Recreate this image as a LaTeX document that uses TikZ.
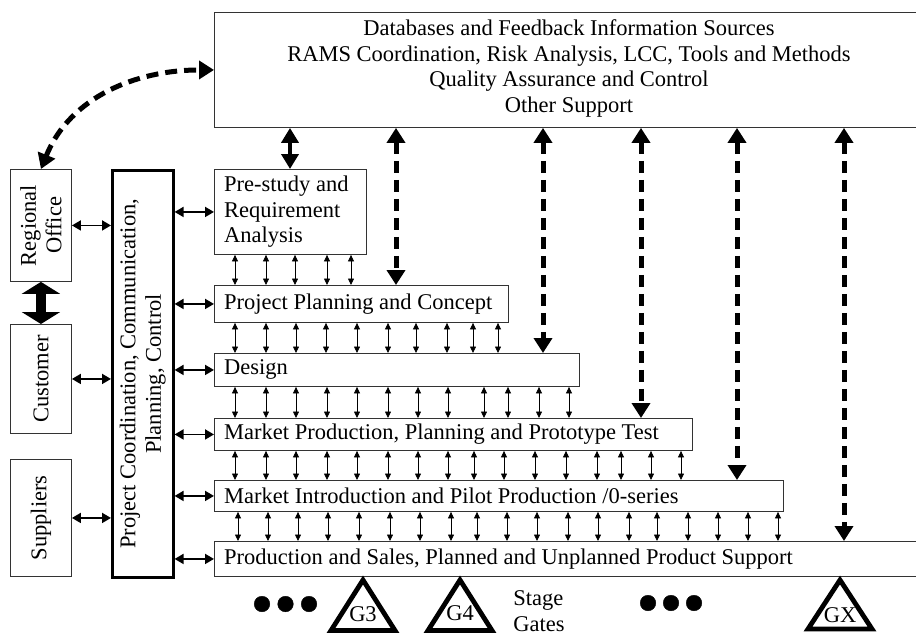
\documentclass[tikz,border=0pt]{standalone}
\usepackage{fontspec}
\setmainfont{Liberation Serif}
\usetikzlibrary{arrows.meta}
\begin{document}
\begin{tikzpicture}[x=1pt,y=-1pt,
  box/.style={draw=black!80, line width=0.9pt, inner sep=0pt, anchor=north west},
  txt/.style={font=\fontsize{22.5}{25.5}\selectfont, inner sep=0pt},
  smallarr/.style={line width=0.8pt, {Triangle[length=6.5pt,width=6pt]}-{Triangle[length=6.5pt,width=6pt]}},
  midarr/.style={line width=1.8pt, {Triangle[length=9pt,width=10pt]}-{Triangle[length=9pt,width=10pt]}},
  dasharr/.style={line width=5pt, dash pattern=on 12pt off 7pt, {Triangle[length=15pt,width=18pt]}-{Triangle[length=15pt,width=18pt]}},
  solidarr/.style={line width=4.5pt, {Triangle[length=15pt,width=17pt]}-{Triangle[length=15pt,width=17pt]}},
  bigarr/.style={line width=10pt, {Triangle[length=12pt,width=38pt]}-{Triangle[length=12pt,width=38pt]}},
  gate/.style={line width=4.8pt, line join=miter},
  dot/.style={fill=black},
]
\useasboundingbox (0,0) rectangle (916,637);
\clip (0,0) rectangle (916,637);

% top box
\node[box, minimum width=720, minimum height=115] (top) at (214,12) {};
\node[txt, align=center] (ttop) at (569,68.5) {Databases and Feedback Information Sources\\RAMS Coordination, Risk Analysis, LCC, Tools and Methods\\Quality Assurance and Control\\Other Support};

% left boxes
\node[box, minimum width=61, minimum height=112] (ro) at (10,169) {};
\node[box, minimum width=61, minimum height=109] (cust) at (10,324) {};
\node[box, minimum width=61, minimum height=117] (sup) at (10,459) {};
\node[box, draw=black, line width=2.6pt, minimum width=61, minimum height=407] (pc) at (111,169) {};
\node[txt, rotate=90, align=center] (tro) at (ro.center) {Regional\\Office};
\node[txt, rotate=90] (tcust) at (cust.center) {Customer};
\node[txt, rotate=90] (tsup) at (sup.center) {Suppliers};
\node[txt, rotate=90, align=center] (tpc) at (pc.center) {Project Coordination, Communication,\\Planning, Control};

% stage boxes
\node[box, minimum width=152, minimum height=85] (s1) at (214,169) {};
\node[box, minimum width=294, minimum height=37] (s2) at (214,285) {};
\node[box, minimum width=365, minimum height=33] (s3) at (214,353) {};
\node[box, minimum width=478, minimum height=32] (s4) at (214,418) {};
\node[box, minimum width=569, minimum height=31] (s5) at (214,480) {};
\node[box, minimum width=720, minimum height=35] (s6) at (214,541) {};

\node[txt, anchor=west, align=left] (ts1) at ([xshift=10pt]s1.west) {Pre-study and\\Requirement\\Analysis};
\node[txt, anchor=west] (ts2) at ([xshift=10pt]s2.west) {Project Planning and Concept};
\node[txt, anchor=west] (ts3) at ([xshift=10pt]s3.west) {Design};
\node[txt, anchor=west] (ts4) at ([xshift=10pt]s4.west) {Market Production, Planning and Prototype Test};
\node[txt, anchor=west] (ts5) at ([xshift=10pt]s5.west) {Market Introduction and Pilot Production /0-series};
\node[txt, anchor=west] (ts6) at ([xshift=10pt]s6.west) {Production and Sales, Planned and Unplanned Product Support};

% left connectors
\draw[midarr] (ro.east) -- (pc.west |- ro.east);
\draw[midarr] (cust.east) -- (pc.west |- cust.east);
\draw[midarr] (sup.east) -- (pc.west |- sup.east);
\draw[bigarr] (ro.south) -- (cust.north);
\foreach \s in {s1,s2,s3,s4,s5,s6}
  \draw[midarr] (pc.east |- \s.west) -- (\s.west);

% small arrows between stages
\foreach \x in {235,266,295,327,351}
  \draw[smallarr] (\x,0 |- s1.south) -- (\x,0 |- s2.north);
\foreach \x in {235,266,296,326,357,388,416,447,473,498}
  \draw[smallarr] (\x,0 |- s2.south) -- (\x,0 |- s3.north);
\foreach \x in {235,266,296,327,357,388,418,448,484,508,539,569}
  \draw[smallarr] (\x,0 |- s3.south) -- (\x,0 |- s4.north);
\foreach \x in {235,266,296,327,357,388,418,448,474,504,535,566,597,621,651,681}
  \draw[smallarr] (\x,0 |- s4.south) -- (\x,0 |- s5.north);
\foreach \x in {238,268,298,328,359,390,420,451,477,507,537,568,598,629,657,688,718,748,778}
  \draw[smallarr] (\x,0 |- s5.south) -- (\x,0 |- s6.north);

% top connectors
\draw[solidarr] (290,0 |- top.south) -- (290,0 |- s1.north);
\draw[dasharr] (396,0 |- top.south) -- (396,0 |- s2.north);
\draw[dasharr] (543,0 |- top.south) -- (543,0 |- s3.north);
\draw[dasharr] (641,0 |- top.south) -- (641,0 |- s4.north);
\draw[dasharr] (737,0 |- top.south) -- (737,0 |- s5.north);
\draw[dasharr] (844,0 |- top.south) -- (844,0 |- s6.north);
\draw[dasharr] (ro.north) to[out=68,in=180] (top.west);

% stage gates
\draw[dot] (262,604) circle (7.8) (285.5,604) circle (7.8) (309,604) circle (7.8);
\draw[dot] (648,603) circle (7.8) (671,603) circle (7.8) (694,603) circle (7.8);
\draw[gate] (363,580) -- (395,630.5) -- (331,630.5) -- cycle;
\draw[gate] (460,580) -- (492,630.5) -- (428,630.5) -- cycle;
\draw[gate] (840,580) -- (872,629) -- (808,629) -- cycle;
\node[txt] (g3) at (363,614) {G3};
\node[txt] (g4) at (460,613) {G4};
\node[txt] (gx) at (840,615) {GX};
\node[txt, align=left] (sg) at (539,611) {Stage\\Gates};
\end{tikzpicture}
\end{document}
